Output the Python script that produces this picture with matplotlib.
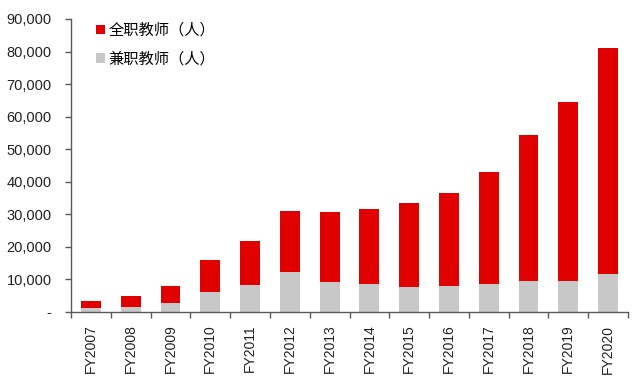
import matplotlib
matplotlib.use("Agg")
import matplotlib.pyplot as plt
from matplotlib.ticker import FuncFormatter, FixedLocator
import numpy as np

plt.rcParams['font.family'] = ['Liberation Sans', 'Noto Sans CJK SC', 'DejaVu Sans']

years = ["FY2007", "FY2008", "FY2009", "FY2010", "FY2011", "FY2012", "FY2013",
         "FY2014", "FY2015", "FY2016", "FY2017", "FY2018", "FY2019", "FY2020"]
total_teachers = [3500, 4800, 7900, 16000, 21900, 31100, 30700,
                  31500, 33500, 36700, 43000, 54300, 64400, 81100]
part_time = [1100, 1500, 2700, 6100, 8400, 12300, 9300,
             8600, 7600, 7900, 8700, 9600, 9500, 11600]
full_time = [t - p for t, p in zip(total_teachers, part_time)]

label_full = "全职教师（人）"
label_part = "兼职教师（人）"

fig = plt.figure(figsize=(6.32, 3.76), dpi=100)
ax = fig.add_axes([71/632, 64/376, 557/632, 293/376])

x = np.arange(len(years))
ax.bar(x, part_time, width=0.5, color="#c8c8c8", label=label_part)
ax.bar(x, full_time, width=0.5, bottom=part_time, color="#e00000", label=label_full)

ax.set_xlim(-0.5, len(years) - 0.5)
ax.set_ylim(0, 90000)
ax.set_yticks(np.arange(0, 90001, 10000))
ax.yaxis.set_major_formatter(FuncFormatter(lambda v, p: "-" if v == 0 else f"{int(v):,}"))

ax.set_xticks(x)
ax.set_xticklabels(years, rotation=90, fontsize=10, color="#222222")
ax.xaxis.set_minor_locator(FixedLocator(np.arange(-0.5, len(years), 1.0)))
ax.tick_params(axis="x", which="major", length=0, pad=9)
ax.tick_params(axis="x", which="minor", length=4, width=1, color="#595959", direction="out")
ax.tick_params(axis="y", length=4, width=1, color="#595959", direction="out",
               labelsize=10.5, labelcolor="#222222", pad=10)

for side in ("top", "right"):
    ax.spines[side].set_visible(False)
for side in ("left", "bottom"):
    ax.spines[side].set_color("#595959")
    ax.spines[side].set_linewidth(1)

handles, labels = ax.get_legend_handles_labels()
leg = ax.legend(handles[::-1], labels[::-1], loc="upper left", bbox_to_anchor=(0.02, 1.037),
                frameon=False, handlelength=0.6, handleheight=0.6,
                handletextpad=0.25, labelspacing=0.75,
                prop={'family': ['Noto Sans CJK SC', 'DejaVu Sans'], 'size': 11})

fig.savefig("out.png", dpi=100)
